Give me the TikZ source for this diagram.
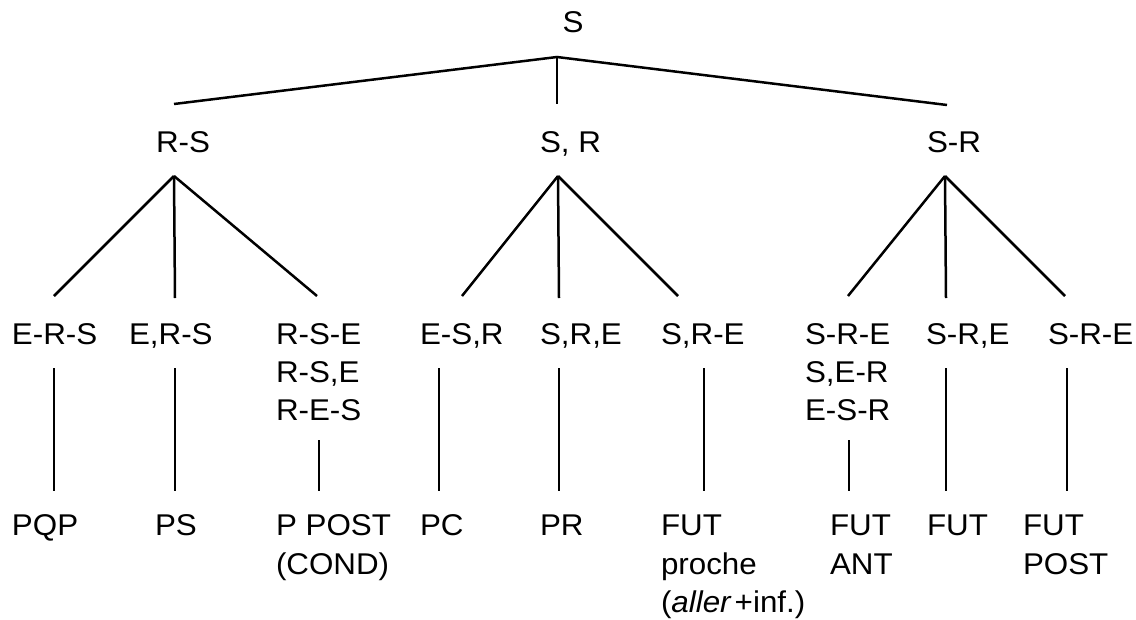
\documentclass[tikz,border=0pt]{standalone}
\usepackage{fontspec}
\setmainfont[FakeStretch=1.045]{Liberation Sans}
\begin{document}
\begin{tikzpicture}[x=1pt,y=-1pt,
  lbl/.style={anchor=base west, inner sep=0pt, outer sep=0pt, font=\fontsize{30}{38}\selectfont},
  link/.style={line width=2.5pt, line cap=butt}]
\useasboundingbox (0,0) rectangle (1136,619);
% ---- labels
\node[lbl, anchor=base] (S) at (573,32) {S};
\node[lbl, anchor=base] (RS) at (183,152) {R-S};
\node[lbl] (SvR) at (540,152) {S, R};
\node[lbl, anchor=base] (SR) at (954,152) {S-R};
% level 2
\node[lbl] (ERS) at (12,344) {E-R-S};
\node[lbl] (EvRS) at (129,344) {E,R-S};
\node[lbl] (RSE1) at (276,344) {R-S-E};
\node[lbl] (RSE2) at (276,382) {R-S,E};
\node[lbl] (RSE3) at (276,420) {R-E-S};
\node[lbl] (ESR) at (420,344) {E-S,R};
\node[lbl] (SRE) at (540,344) {S,R,E};
\node[lbl] (SRmE) at (661,344) {S,R-E};
\node[lbl] (SRE1) at (805,344) {S-R-E};
\node[lbl] (SRE2) at (805,382) {S,E-R};
\node[lbl] (SRE3) at (805,420) {E-S-R};
\node[lbl] (SRvE) at (926,344) {S-R,E};
\node[lbl] (SRmmE) at (1048,344) {S-R-E};
% level 3
\node[lbl] (PQP) at (12,535) {PQP};
\node[lbl] (PS) at (155,535) {PS};
\node[lbl] (PPOST1) at (276,535) {P POST};
\node[lbl] (PPOST2) at (276,574) {(COND)};
\node[lbl] (PC) at (420,535) {PC};
\node[lbl] (PR) at (540,535) {PR};
\node[lbl] (FUTP1) at (661,535) {FUT};
\node[lbl] (FUTP2) at (661,574) {proche};
\node[lbl] (FUTP3) at (661,612) {(\textit{aller}\hspace{3pt}+inf.)};
\node[lbl] (FUTA1) at (830,535) {FUT};
\node[lbl] (FUTA2) at (830,574) {ANT};
\node[lbl] (FUT) at (927,535) {FUT};
\node[lbl] (FUTPO1) at (1023,535) {FUT};
\node[lbl] (FUTPO2) at (1023,574) {POST};
% ---- connector end points
\coordinate (S-j) at (557,57);
\coordinate (RS-t) at (174,104);
\coordinate (SvR-t) at (557,104);
\coordinate (SR-t) at (947,105);
\coordinate (RS-b) at (174,176);
\coordinate (SvR-b) at (558,176);
\coordinate (SR-b) at (945,176);
\coordinate (ERS-t) at (54,296);
\coordinate (EvRS-t) at (175,298);
\coordinate (RSE-t) at (317,296);
\coordinate (ESR-t) at (462,296);
\coordinate (SRE-t) at (559,298);
\coordinate (SRmE-t) at (678,296);
\coordinate (SRE1-t) at (848,296);
\coordinate (SRvE-t) at (946,298);
\coordinate (SRmmE-t) at (1065,296);
\coordinate (ERS-b) at (54,368);
\coordinate (EvRS-b) at (175,368);
\coordinate (RSE-b) at (319,440);
\coordinate (ESR-b) at (439,368);
\coordinate (SRE-b) at (559,368);
\coordinate (SRmE-b) at (704,368);
\coordinate (SRE1-b) at (849,440);
\coordinate (SRvE-b) at (946,368);
\coordinate (SRmmE-b) at (1067,368);
\coordinate (PQP-t) at (54,491);
\coordinate (PS-t) at (175,491);
\coordinate (PPOST-t) at (319,491);
\coordinate (PC-t) at (439,491);
\coordinate (PR-t) at (559,491);
\coordinate (FUTP-t) at (704,491);
\coordinate (FUTA-t) at (849,491);
\coordinate (FUT-t) at (946,491);
\coordinate (FUTPO-t) at (1067,491);
% ---- connectors
\draw[link] (RS-t) -- (S-j) -- (SR-t);
\draw[link] (S-j) -- (SvR-t);
\draw[link] (RS-b) -- (ERS-t);
\draw[link] (RS-b) -- (EvRS-t);
\draw[link] (RS-b) -- (RSE-t);
\draw[link] (SvR-b) -- (ESR-t);
\draw[link] (SvR-b) -- (SRE-t);
\draw[link] (SvR-b) -- (SRmE-t);
\draw[link] (SR-b) -- (SRE1-t);
\draw[link] (SR-b) -- (SRvE-t);
\draw[link] (SR-b) -- (SRmmE-t);
\draw[link] (ERS-b) -- (PQP-t);
\draw[link] (EvRS-b) -- (PS-t);
\draw[link] (RSE-b) -- (PPOST-t);
\draw[link] (ESR-b) -- (PC-t);
\draw[link] (SRE-b) -- (PR-t);
\draw[link] (SRmE-b) -- (FUTP-t);
\draw[link] (SRE1-b) -- (FUTA-t);
\draw[link] (SRvE-b) -- (FUT-t);
\draw[link] (SRmmE-b) -- (FUTPO-t);
\end{tikzpicture}
\end{document}
